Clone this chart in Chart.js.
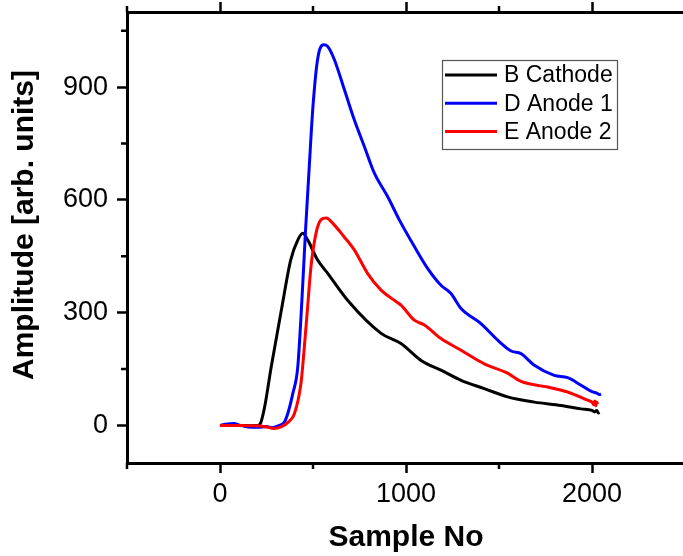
<!DOCTYPE html>
<html>
<head>
<meta charset="utf-8">
<script src="https://cdn.jsdelivr.net/npm/chart.js@4.4.1/dist/chart.umd.min.js"></script>
<style>
  html, body { margin: 0; padding: 0; background: #fff; overflow: hidden; }
  #wrap { width: 690px; height: 556px; }
</style>
</head>
<body>
<div id="wrap"><canvas id="chart"></canvas></div>
<script>
// Series (sample number / amplitude)
const cathodeX = [0, 50, 100, 150, 200, 215, 240, 275, 330, 380, 418, 445, 472, 525, 580, 686, 866, 973, 1081, 1188, 1296, 1421, 1546, 1690, 1833, 1941, 2000, 2015, 2025, 2035, 2040];
const cathodeY = [0, 1, 0, -1, 0, 3, 49, 155, 307, 440, 493, 511, 493, 440, 404, 333, 245, 218, 173, 147, 120, 98, 76, 62, 53, 44, 40, 36, 40, 33, 35];

const anode1X = [0, 40, 75, 110, 150, 200, 250, 280, 320, 345, 364, 391, 418, 440, 460, 480, 500, 525, 557, 580, 615, 669, 722, 776, 830, 901, 964, 1045, 1116, 1188, 1242, 1296, 1403, 1493, 1565, 1618, 1690, 1797, 1869, 1941, 2003, 2025, 2040, 2048];
const anode1Y = [0, 4, 5, 0, -4, -5, -3, -6, 0, 8, 31, 84, 155, 330, 520, 690, 850, 975, 1013, 1008, 973, 893, 813, 742, 671, 609, 547, 476, 418, 373, 351, 311, 271, 227, 198, 191, 160, 133, 127, 107, 89, 86, 82, 84];

const anode2X = [0, 50, 100, 150, 200, 250, 290, 328, 370, 400, 435, 452, 471, 489, 516, 543, 570, 615, 667, 722, 794, 866, 937, 973, 1045, 1099, 1188, 1296, 1421, 1546, 1618, 1762, 1869, 1976, 2000, 2010, 2015, 2020, 2025, 2030];
const anode2Y = [0, 0, 0, -1, -1, -4, -8, -4, 10, 31, 111, 200, 315, 422, 511, 547, 552, 533, 502, 467, 404, 360, 333, 320, 280, 267, 231, 200, 164, 139, 117, 102, 89, 67, 62, 55, 65, 52, 62, 56];

const seriesNames = ["B Cathode", "D Anode 1", "E Anode 2"];
const seriesColors = ["#000000", "#0000ff", "#ff0000"];

// Axis ticks
const xMajorTicks = [0, 1000, 2000];
const xMinorTicks = [-500, 500, 1500, 2500];
const yMajorTicks = [0, 300, 600, 900];
const yMinorTicks = [150, 450, 750, 1050];

const toPoints = (xs, ys) => xs.map((x, i) => ({ x: x, y: ys[i] }));

// fixed axis sizes, no extra label padding
const fixSize = (prop, size) => s => {
  s[prop] = size;
  s.paddingTop = s.paddingBottom = s.paddingLeft = s.paddingRight = 0;
};

// Minor tick marks (shorter than the majors)
const minorTicks = {
  id: "minorTicks",
  afterDraw(chart) {
    const ctx = chart.ctx;
    const { x, x2, y } = chart.scales;
    ctx.save();
    ctx.strokeStyle = "#000";
    ctx.lineWidth = 2.5;
    ctx.beginPath();
    xMinorTicks.forEach(v => {
      const px = x.getPixelForValue(v);
      ctx.moveTo(px, x.top);
      ctx.lineTo(px, x.top + 6);
      ctx.moveTo(px, x2.bottom);
      ctx.lineTo(px, x2.bottom - 6);
    });
    yMinorTicks.forEach(v => {
      const py = y.getPixelForValue(v);
      ctx.moveTo(y.right, py);
      ctx.lineTo(y.right - 6, py);
    });
    ctx.stroke();
    ctx.restore();
  }
};

// Boxed legend inside the plot
const boxLegend = {
  id: "boxLegend",
  afterDraw(chart) {
    const ctx = chart.ctx;
    ctx.save();
    ctx.strokeStyle = "#555";
    ctx.lineWidth = 1.2;
    ctx.strokeRect(442.5, 60.5, 175, 89);
    ctx.font = "23px 'Liberation Sans', Arial, sans-serif";
    ctx.textBaseline = "middle";
    ctx.fillStyle = "#000";
    seriesNames.forEach((name, i) => {
      const ly = 75 + i * 28.3;
      ctx.strokeStyle = seriesColors[i];
      ctx.lineWidth = 3;
      ctx.beginPath();
      ctx.moveTo(445, ly);
      ctx.lineTo(497, ly);
      ctx.stroke();
      ctx.fillText(name, 504, ly + 1);
    });
    ctx.restore();
  }
};

const axisGrid = {
  drawOnChartArea: false,
  drawTicks: true,
  tickLength: 10,
  tickWidth: 2.5,
  color: "#000"
};
const axisBorder = { display: true, width: 3, color: "#000" };
const tickFont = { family: "'Liberation Sans', Arial, sans-serif", size: 27 };
const titleFont = { family: "'Liberation Sans', Arial, sans-serif", size: 30, weight: "bold" };

new Chart(document.getElementById("chart"), {
  type: "scatter",
  data: {
    datasets: [
      { label: seriesNames[0], data: toPoints(cathodeX, cathodeY), borderColor: seriesColors[0], order: 3 },
      { label: seriesNames[1], data: toPoints(anode1X, anode1Y), borderColor: seriesColors[1], order: 2 },
      { label: seriesNames[2], data: toPoints(anode2X, anode2Y), borderColor: seriesColors[2], order: 1 }
    ].map(ds => Object.assign(ds, {
      showLine: true,
      pointRadius: 0,
      borderWidth: 3,
      cubicInterpolationMode: "monotone",
      xAxisID: "x",
      yAxisID: "y"
    }))
  },
  options: {
    responsive: true,
    maintainAspectRatio: false,
    animation: false,
    layout: { padding: { left: 0, right: 5, top: 0, bottom: 0 } },
    plugins: { legend: { display: false }, tooltip: { enabled: false } },
    scales: {
      x: {
        type: "linear",
        position: "bottom",
        min: -500,
        max: 2500,
        afterBuildTicks: s => { s.ticks = xMajorTicks.map(v => ({ value: v })); },
        afterFit: fixSize("height", 93),
        grid: axisGrid,
        border: axisBorder,
        ticks: { font: tickFont, color: "#000", padding: 5, maxRotation: 0, callback: v => String(v) },
        title: { display: true, text: "Sample No", font: titleFont, color: "#000", padding: { top: 0, bottom: 0 } }
      },
      x2: {
        type: "linear",
        position: "top",
        min: -500,
        max: 2500,
        afterBuildTicks: s => { s.ticks = xMajorTicks.map(v => ({ value: v })); },
        afterFit: fixSize("height", 12),
        grid: axisGrid,
        border: axisBorder,
        ticks: { display: false }
      },
      y: {
        type: "linear",
        position: "left",
        min: -100,
        max: 1100,
        afterBuildTicks: s => { s.ticks = yMajorTicks.map(v => ({ value: v })); },
        afterFit: fixSize("width", 127),
        grid: axisGrid,
        border: axisBorder,
        ticks: { font: tickFont, color: "#000", padding: 9, callback: v => String(v) },
        title: { display: true, text: "   Amplitude [arb. units]", font: titleFont, color: "#000", padding: { top: 7, bottom: 0 } }
      }
    }
  },
  plugins: [minorTicks, boxLegend]
});
</script>
</body>
</html>
